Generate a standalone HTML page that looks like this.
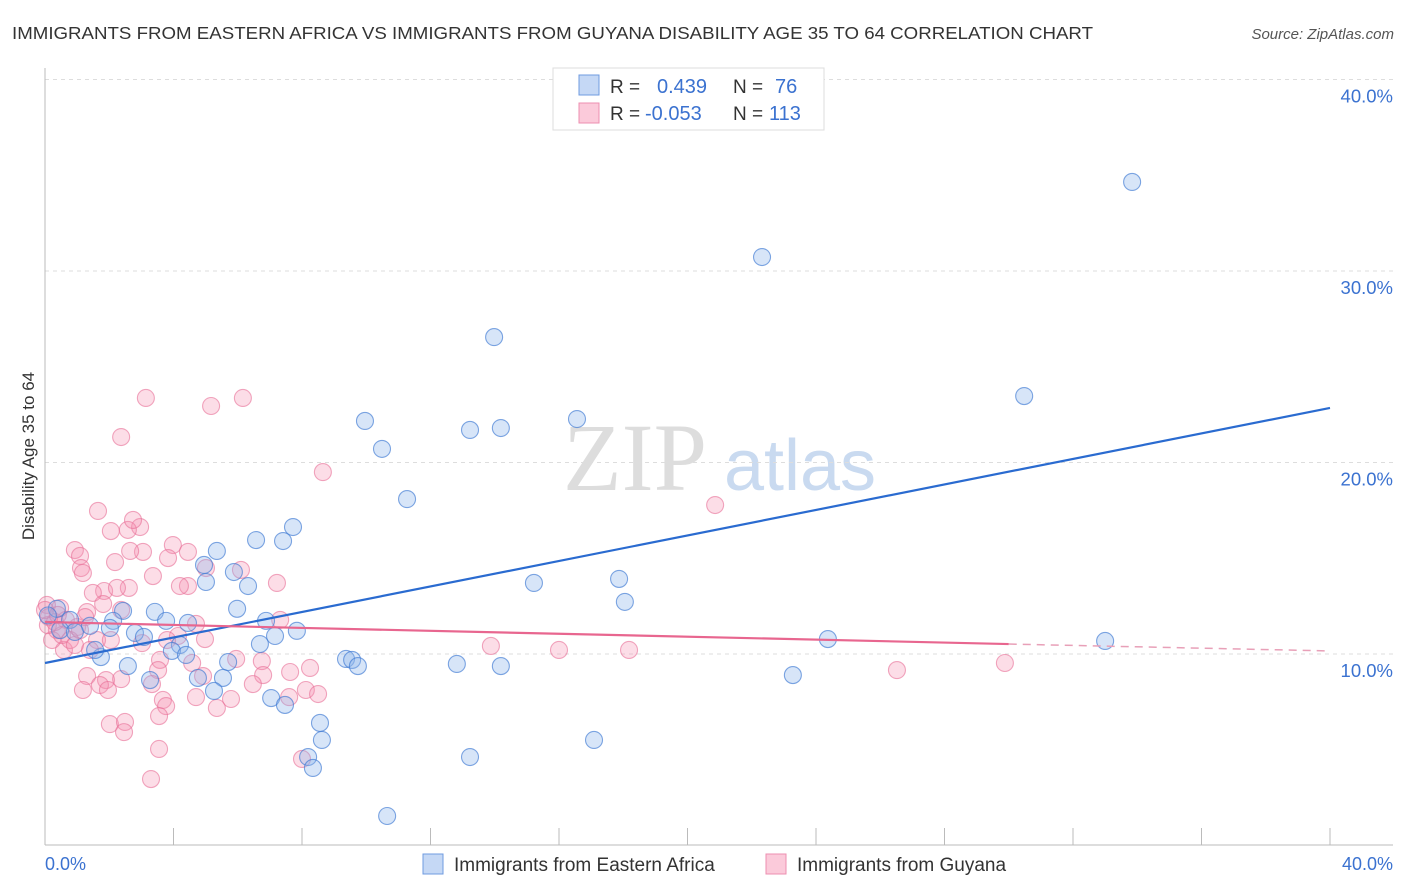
<!DOCTYPE html>
<html><head><meta charset="utf-8"><style>
body{margin:0;background:#fff;font-family:"Liberation Sans",sans-serif;}
#wrap{position:relative;width:1406px;height:892px;overflow:hidden;}
</style></head><body>
<div id="wrap">
<svg id="svg" width="1406" height="892" xmlns="http://www.w3.org/2000/svg">
<text x="12" y="39" font-size="17.5" fill="#333" textLength="1081" lengthAdjust="spacingAndGlyphs">IMMIGRANTS FROM EASTERN AFRICA VS IMMIGRANTS FROM GUYANA DISABILITY AGE 35 TO 64 CORRELATION CHART</text>
<text x="1394" y="39" font-size="15" fill="#555" font-style="italic" text-anchor="end">Source: ZipAtlas.com</text>
<text x="635" y="490" font-size="96" fill="#ddd" font-family="Liberation Serif,serif" text-anchor="middle">ZIP</text>
<text x="800" y="490" font-size="72" fill="#c9daf0" text-anchor="middle">atlas</text>
<text transform="translate(34,456) rotate(-90)" font-size="17" fill="#333" text-anchor="middle">Disability Age 35 to 64</text>
<g id="grid"></g><g id="pts"></g><g id="lines"></g>
<g>
<rect x="553" y="68" width="271" height="62" fill="#fff" stroke="#ddd"/>
<rect x="579" y="75" width="20" height="20" fill="#c5d8f5" stroke="#6f9be0"/>
<rect x="579" y="103" width="20" height="20" fill="#fbcada" stroke="#ee8fb0"/>
<text x="610" y="93" font-size="19" fill="#333">R = </text><text x="657" y="93" font-size="20" fill="#3b72d0">0.439</text>
<text x="733" y="93" font-size="19" fill="#333">N = </text><text x="775" y="93" font-size="20" fill="#3b72d0">76</text>
<text x="610" y="120" font-size="19" fill="#333">R = </text><text x="645" y="120" font-size="20" fill="#3b72d0">-0.053</text>
<text x="733" y="120" font-size="19" fill="#333">N = </text><text x="769" y="120" font-size="20" fill="#3b72d0">113</text>
</g>
<g>
<rect x="423" y="854" width="20" height="20" fill="#c5d8f5" stroke="#6f9be0"/>
<text x="454" y="871" font-size="19" fill="#333">Immigrants from Eastern Africa</text>
<rect x="766" y="854" width="20" height="20" fill="#fbcada" stroke="#ee8fb0"/>
<text x="797" y="871" font-size="19" fill="#333">Immigrants from Guyana</text>
</g>
<text x="45" y="870" font-size="18" fill="#3b72d0">0.0%</text>
<text x="1393" y="870" font-size="18" fill="#3b72d0" text-anchor="end">40.0%</text>
</svg>
</div>
<script>
const yTicks=[10,20,30,40];
const yTickLabels=["10.0%","20.0%","30.0%","40.0%"];
const xTicks=[0,4,8,12,16,20,24,28,32,36,40];
const blueX=[33.84,22.32,13.98,30.48,9.96,16.56,13.23,14.19,10.49,11.27,7.72,6.57,7.41,5.35,4.95,5.01,5.88,6.32,15.22,17.87,18.05,5.98,3.42,2.43,3.77,2.12,4.45,6.88,7.84,7.16,6.69,24.37,33.00,2.80,3.08,4.20,3.95,4.39,1.74,2.58,5.70,9.37,9.56,9.74,12.82,14.19,23.28,4.76,5.54,3.27,5.26,7.04,7.47,8.56,8.62,8.19,8.34,13.23,17.09,10.65,0.37,0.78,1.40,2.02,0.47,0.93,0.09,1.56];
const blueY=[34.65,30.73,26.55,23.47,22.17,22.27,21.70,21.80,20.71,18.09,16.63,15.95,15.90,15.38,14.65,13.76,14.28,13.55,13.71,13.92,12.72,12.36,12.20,12.25,11.73,11.73,11.62,11.73,11.21,10.94,10.52,10.78,10.68,11.10,10.89,10.47,10.16,9.95,9.84,9.37,9.58,9.74,9.69,9.37,9.48,9.37,8.90,8.75,8.75,8.64,8.07,7.70,7.34,6.40,5.51,4.62,4.05,4.62,5.51,1.54,12.36,11.78,11.47,11.36,11.25,11.15,12.01,10.21];
const pinkX=[3.14,5.17,6.16,2.37,8.65,20.86,1.65,2.96,2.05,2.58,2.74,0.93,1.09,3.98,4.45,3.83,3.05,2.65,2.18,1.12,1.18,3.36,5.01,6.10,7.22,4.45,4.20,2.61,1.84,2.24,1.49,1.81,2.37,1.31,0.47,0.65,1.00,0.06,0.12,1.25,4.70,7.32,4.98,1.62,4.14,3.80,2.05,13.88,16.00,18.18,0.59,1.40,3.02,3.58,4.58,5.95,6.75,7.63,8.25,6.79,26.52,29.88,1.31,1.90,2.37,1.71,1.18,1.96,3.52,3.33,4.92,4.70,6.47,5.79,5.35,7.60,8.12,8.50,3.67,3.77,2.02,2.49,2.46,3.55,3.55,3.30,8.00,0.37,0.22,0.53,0.09,0.31,0.78,0.93,1.09,0.0,0.40];
const pinkY=[23.37,22.95,23.37,21.33,19.50,17.78,17.47,16.63,16.42,16.48,17.00,15.43,15.12,15.69,15.33,15.01,15.33,15.38,14.80,14.49,14.23,14.07,14.49,14.39,13.71,13.55,13.55,13.45,13.29,13.45,13.19,12.61,12.30,12.19,12.40,11.78,11.41,12.56,11.93,11.93,11.57,11.78,10.78,10.73,10.94,10.73,10.73,10.42,10.21,10.21,10.21,10.21,10.57,9.69,9.53,9.74,9.63,9.06,9.27,8.90,9.16,9.53,8.85,8.64,8.69,8.38,8.12,8.12,9.16,8.43,8.85,7.75,8.43,7.65,7.18,7.75,8.12,7.91,7.60,7.28,6.34,6.45,5.92,6.76,5.04,3.47,4.52,11.25,10.73,10.99,11.51,11.67,10.73,10.47,11.25,12.30,12.04];
const blueTrendX=[0,40];
const blueTrendY=[9.53,22.85];
const pinkTrendX=[0,30,40];
const pinkTrendY=[11.67,10.52,10.16];

const NS="http://www.w3.org/2000/svg";
function sx(v){return 45+v*32.125;}
function sy(v){return 845.5-v*19.15;}
function mk(tag,attrs,parent){const e=document.createElementNS(NS,tag);for(const k in attrs)e.setAttribute(k,attrs[k]);parent.appendChild(e);return e;}
const grid=document.getElementById('grid'),pts=document.getElementById('pts'),lines=document.getElementById('lines');
yTicks.forEach((t,i)=>{
  const l=mk('line',{x1:45,x2:1393,y1:sy(t),y2:sy(t),stroke:'#ddd','stroke-dasharray':'4,4'},grid);
  
  
  const tx=mk('text',{x:1393,y:sy(t)+23,'font-size':18.5,fill:'#3b72d0','text-anchor':'end'},grid);
  tx.textContent=yTickLabels[i];
  
  
});
const ax=mk('line',{x1:45,x2:1393,y1:845,y2:845,stroke:'#bbb'},grid);


const ay=mk('line',{x1:45,x2:45,y1:68,y2:845,stroke:'#bbb'},grid);


xTicks.forEach(t=>{
  const l=mk('line',{x1:sx(t),x2:sx(t),y1:828,y2:845,stroke:'#bbb'},grid);
  
  
});
pinkX.forEach((x,i)=>{
  const c=mk('circle',{cx:sx(x),cy:sy(pinkY[i]),r:8.5,fill:'rgba(244,143,177,0.3)',stroke:'rgba(232,110,150,0.6)','stroke-width':1.1},pts);
  
  
});
blueX.forEach((x,i)=>{
  const c=mk('circle',{cx:sx(x),cy:sy(blueY[i]),r:8.5,fill:'rgba(140,180,235,0.35)',stroke:'rgba(60,120,210,0.65)','stroke-width':1.1},pts);
  
  
});
const bl=mk('line',{x1:sx(blueTrendX[0]),y1:sy(blueTrendY[0]),x2:sx(blueTrendX[1]),y2:sy(blueTrendY[1]),stroke:'#2a6bd0','stroke-width':2.2},lines);


const pl=mk('line',{x1:sx(pinkTrendX[0]),y1:sy(pinkTrendY[0]),x2:sx(pinkTrendX[1]),y2:sy(pinkTrendY[1]),stroke:'#e8668f','stroke-width':2.2},lines);


const pd=mk('line',{x1:sx(pinkTrendX[1]),y1:sy(pinkTrendY[1]),x2:sx(pinkTrendX[2]),y2:sy(pinkTrendY[2]),stroke:'#e8a0b8','stroke-width':1.5,'stroke-dasharray':'8,6'},lines);


</script>
</body></html>
